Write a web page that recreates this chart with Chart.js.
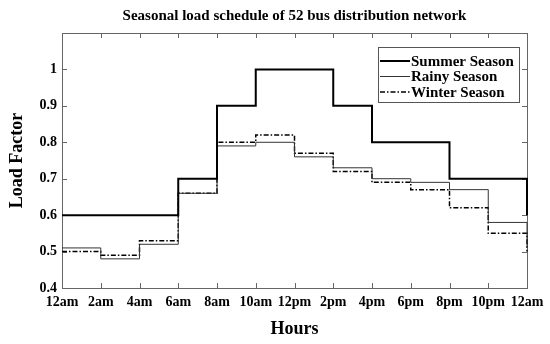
<!DOCTYPE html>
<html>
<head>
<meta charset="utf-8">
<script src="https://cdn.jsdelivr.net/npm/chart.js@4.4.0/dist/chart.umd.min.js"></script>
<style>
	body { margin: 0; background: #fff; }
</style>
</head>
<body>
<canvas id="myChart" width="550" height="344"></canvas>
<script>

// 데이터 (2시간 간격, 마지막 값은 24시 끝점)
const hours = [0, 2, 4, 6, 8, 10, 12, 14, 16, 18, 20, 22, 24];
const hourLabels = ["12am", "2am", "4am", "6am", "8am", "10am", "12pm", "2pm", "4pm", "6pm", "8pm", "10pm", "12am"];
const yTicks = [0.4, 0.5, 0.6, 0.7, 0.8, 0.9, 1];

const summer = [0.6, 0.6, 0.6, 0.7, 0.9, 1.0, 1.0, 0.9, 0.8, 0.8, 0.7, 0.7, 0.6];
const rainy = [0.51, 0.48, 0.52, 0.66, 0.79, 0.80, 0.76, 0.73, 0.70, 0.69, 0.67, 0.58, 0.51];
const winter = [0.50, 0.49, 0.53, 0.66, 0.80, 0.82, 0.77, 0.72, 0.69, 0.67, 0.62, 0.55, 0.50];

const serif = "'Liberation Serif', 'Times New Roman', serif";

function toPoints(arr) {
	let pts = [];
	for (let i = 0; i < hours.length; i++) {
		pts.push({ x: hours[i], y: arr[i] });
	}
	return pts;
}

// 테두리 + 안쪽 눈금 (matlab 스타일)
const framePlugin = {
	id: "frame",
	beforeDatasetsDraw(chart) {
		const ctx = chart.ctx;
		const a = chart.chartArea;
		const xs = chart.scales.x;
		const ys = chart.scales.y;
		ctx.save();
		ctx.strokeStyle = "#666";
		ctx.lineWidth = 1;
		ctx.beginPath();
		for (let i = 1; i < hours.length - 1; i++) {
			let px = Math.round(xs.getPixelForValue(hours[i])) + 0.5;
			ctx.moveTo(px, a.bottom);
			ctx.lineTo(px, a.bottom - 5);
			ctx.moveTo(px, a.top);
			ctx.lineTo(px, a.top + 5);
		}
		for (let i = 1; i < yTicks.length; i++) {
			let py = Math.round(ys.getPixelForValue(yTicks[i])) + 0.5;
			ctx.moveTo(a.left, py);
			ctx.lineTo(a.left + 5, py);
			ctx.moveTo(a.right, py);
			ctx.lineTo(a.right - 5, py);
		}
		ctx.stroke();
		ctx.strokeRect(Math.round(a.left) + 0.5, Math.round(a.top) + 0.5, Math.round(a.right - a.left), Math.round(a.bottom - a.top));
		ctx.restore();
	}
};

// 차트 안쪽 오른쪽 위 범례
const legendPlugin = {
	id: "innerLegend",
	afterDraw(chart) {
		const ctx = chart.ctx;
		const a = chart.chartArea;
		const w = 141, h = 55;
		const left = a.right - 8 - w;
		const top = a.top + 14;
		ctx.save();
		ctx.fillStyle = "#fff";
		ctx.fillRect(left, top, w, h);
		ctx.strokeStyle = "#555";
		ctx.lineWidth = 1;
		ctx.strokeRect(left + 0.5, top + 0.5, w, h);
		ctx.font = "bold 15px " + serif;
		ctx.textBaseline = "middle";
		ctx.fillStyle = "#000";
		chart.data.datasets.forEach(function(ds, i) {
			let y = top + 14 + i * 15.5;
			ctx.beginPath();
			ctx.strokeStyle = ds.borderColor;
			ctx.lineWidth = ds.borderWidth;
			ctx.setLineDash(ds.borderDash || []);
			ctx.moveTo(left + 2, y);
			ctx.lineTo(left + 32, y);
			ctx.stroke();
			ctx.setLineDash([]);
			ctx.fillText(ds.label, left + 33, y + 1);
		});
		ctx.restore();
	}
};

const ctx = document.getElementById("myChart");

new Chart(ctx, {
	type: "line",
	data: {
		datasets: [{
			label: "Summer Season",
			data: toPoints(summer),
			borderColor: "#000",
			borderWidth: 2,
			stepped: true,
			pointRadius: 0,
			clip: false
		}, {
			label: "Rainy Season",
			data: toPoints(rainy),
			borderColor: "#333",
			borderWidth: 1,
			stepped: true,
			pointRadius: 0,
			clip: false
		}, {
			label: "Winter Season",
			data: toPoints(winter),
			borderColor: "#000",
			borderWidth: 1.5,
			borderDash: [5, 2, 1.5, 2],
			stepped: true,
			pointRadius: 0,
			clip: false
		}]
	},
	options: {
		responsive: false,
		animation: false,
		devicePixelRatio: 1,
		layout: { padding: { right: 23 } },
		plugins: {
			legend: { display: false },
			tooltip: { enabled: false },
			title: {
				display: true,
				fullSize: false,
				text: "Seasonal load schedule of 52 bus distribution network",
				color: "#000",
				font: { family: serif, size: 15, weight: "bold" },
				padding: { top: 7, bottom: 8 }
			}
		},
		scales: {
			x: {
				type: "linear",
				min: 0,
				max: 24,
				afterBuildTicks: function(scale) {
					scale.ticks = hours.map(v => ({ value: v }));
				},
				afterFit: function(scale) {
					scale.height = 56;
				},
				ticks: {
					autoSkip: false,
					maxRotation: 0,
					padding: 6,
					color: "#000",
					font: { family: serif, size: 14, weight: "bold" },
					callback: function(v) {
						return hourLabels[hours.indexOf(v)];
					}
				},
				grid: { display: false, drawTicks: false },
				border: { display: false },
				title: {
					display: true,
					text: "Hours",
					color: "#000",
					font: { family: serif, size: 18, weight: "bold" },
					padding: { top: 5 }
				}
			},
			y: {
				min: 0.4,
				max: 1.1,
				afterBuildTicks: function(scale) {
					scale.ticks = yTicks.map(v => ({ value: v }));
				},
				afterFit: function(scale) {
					scale.width = 62;
				},
				ticks: {
					padding: 5,
					color: "#000",
					font: { family: serif, size: 14, weight: "bold" },
					callback: function(v) {
						return String(v);
					}
				},
				grid: { display: false, drawTicks: false },
				border: { display: false },
				title: {
					display: true,
					text: "Load Factor",
					color: "#000",
					font: { family: serif, size: 18, weight: "bold" },
					padding: { top: 7 }
				}
			}
		}
	},
	plugins: [framePlugin, legendPlugin]
});

</script>
</body>
</html>
